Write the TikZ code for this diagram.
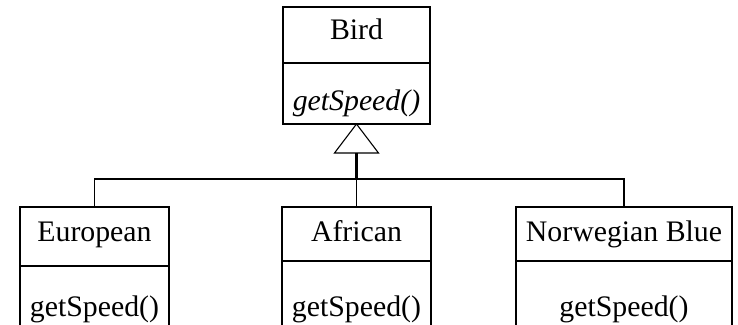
\documentclass[tikz,border=0pt]{standalone}
\usepackage{fontspec}
\setmainfont{Liberation Serif}
\begin{document}
\begin{tikzpicture}[x=1pt,y=1pt,
  cls/.style={draw, line width=1.1pt, inner sep=0pt, outer sep=0pt},
  txt/.style={anchor=base, inner sep=0pt, font=\fontsize{29.8}{34}\selectfont},
  link/.style={line width=1.1pt},
  thick link/.style={line width=2.2pt}]
\useasboundingbox (0,0) rectangle (738,324);
\clip (0,0) rectangle (738,324);
% Bird
\node[cls, minimum width=147pt, minimum height=56pt] (birdT) at (356.5,289) {};
\node[cls, minimum width=147pt, minimum height=61pt, anchor=north] (birdM) at (birdT.south) {};
\node[txt] (birdN) at (356.5,284) {Bird};
\node[txt] (birdS) at (356.5,213) {\itshape getSpeed()};
% European
\node[cls, minimum width=149pt, minimum height=59pt, anchor=north west] (euT) at (20,117) {};
\node[cls, minimum width=149pt, minimum height=70pt, anchor=north] (euM) at (euT.south) {};
\node[txt] (euN) at (euT.center |- 0,82.5) {European};
\node[txt] (euS) at (euT.center |- 0,8) {getSpeed()};
% African
\node[cls, minimum width=149pt, minimum height=54pt, anchor=north west] (afT) at (282,117) {};
\node[cls, minimum width=149pt, minimum height=75pt, anchor=north] (afM) at (afT.south) {};
\node[txt] (afN) at (afT.center |- 0,82.5) {African};
\node[txt] (afS) at (afT.center |- 0,8) {getSpeed()};
% Norwegian Blue
\node[cls, minimum width=216pt, minimum height=54pt, anchor=north west] (nbT) at (516,117) {};
\node[cls, minimum width=216pt, minimum height=75pt, anchor=north] (nbM) at (nbT.south) {};
\node[txt] (nbN) at (nbT.center |- 0,82.5) {Norwegian Blue};
\node[txt] (nbS) at (nbT.center |- 0,8) {getSpeed()};
% generalization
\coordinate (apex) at (birdM.south);
\coordinate (tl) at ([xshift=-22pt,yshift=-29pt]apex);
\coordinate (tr) at ([xshift=22pt,yshift=-29pt]apex);
\coordinate (tb) at ([yshift=-29pt]apex);
\coordinate (hub) at ([yshift=-55pt]apex);
\draw[link, fill=white, line join=miter] (apex) -- (tl) -- (tr) -- cycle;
\draw[thick link] (tb) -- (hub);
\draw[link] (euT.north) |- (hub) -| (nbT.north);
\draw[link] (hub) -- (afT.north);
\end{tikzpicture}
\end{document}
